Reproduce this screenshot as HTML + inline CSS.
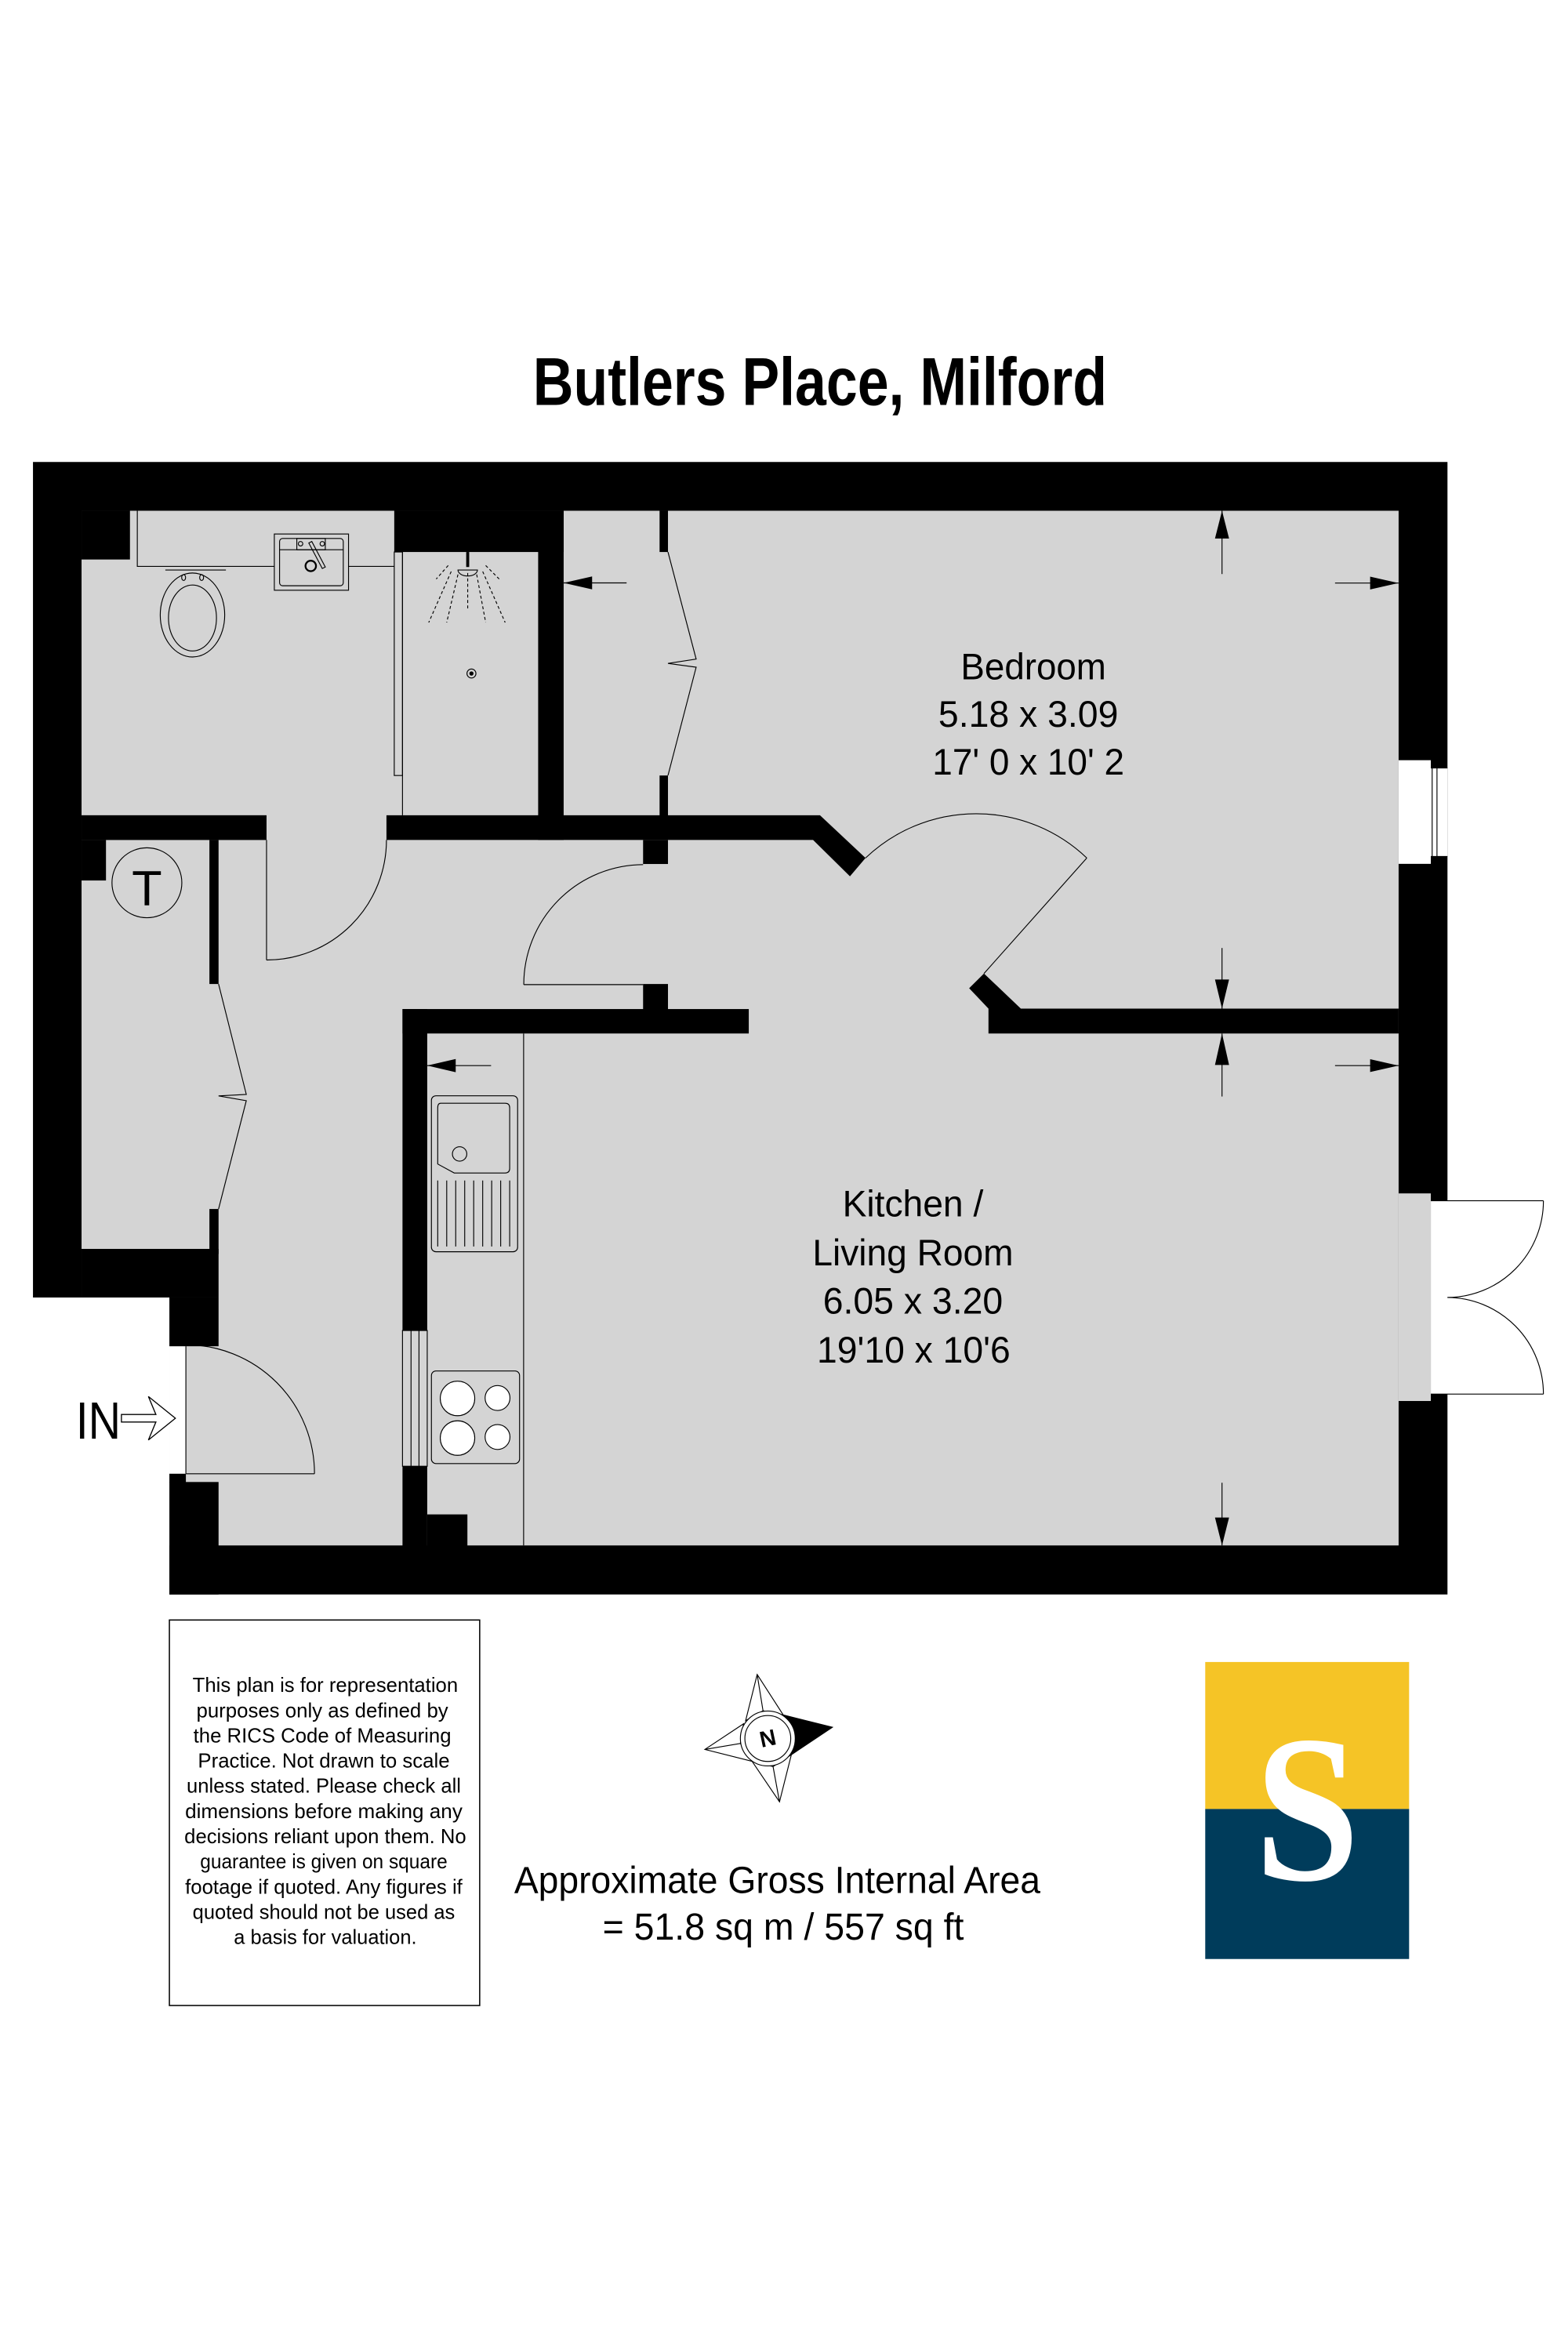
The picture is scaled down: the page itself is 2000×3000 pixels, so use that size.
<!DOCTYPE html>
<html><head><meta charset="utf-8"><style>
html,body{margin:0;padding:0;background:#fff;}
svg{display:block;}
text{font-family:"Liberation Sans",Arial,sans-serif;}
</style></head><body>
<svg width="2000" height="3000" viewBox="0 0 1046 1568" preserveAspectRatio="none" xmlns="http://www.w3.org/2000/svg">
<rect x="0" y="0" width="1046" height="1568" fill="#fff"/>
<!-- title -->
<text x="547" y="270" font-size="45" font-weight="bold" text-anchor="middle" textLength="383" lengthAdjust="spacingAndGlyphs">Butlers Place, Milford</text>

<!-- outer black -->
<polygon points="22,308 965.6,308 965.6,1063 113,1063 113,865 22,865" fill="#000"/>
<!-- interior gray -->
<rect x="54.4" y="340.5" width="878.6" height="689.8" fill="#d4d4d4"/>
<rect x="0" y="865" width="113" height="200" fill="#fff"/>
<rect x="113" y="897.5" width="11" height="85" fill="#fff"/>

<g fill="#000">
<rect x="54.4" y="340.5" width="32.3" height="32.5"/>
<rect x="263" y="340.5" width="113" height="27.5"/>
<rect x="359" y="340.5" width="17" height="219.5"/>
<rect x="440" y="340.5" width="5.6" height="27.5"/>
<rect x="440" y="517" width="5.6" height="27"/>
<rect x="54.4" y="543.5" width="123.4" height="16.5"/>
<polygon points="257.8,543.5 547,543.5 577.4,572 567,584.2 542.4,560 257.8,560"/>
<rect x="429" y="560" width="16.6" height="16"/>
<rect x="429" y="656" width="16.6" height="17"/>
<rect x="54.4" y="560" width="16.3" height="27"/>
<rect x="139.7" y="560" width="6.1" height="96"/>
<rect x="139.7" y="806" width="6.1" height="30"/>
<rect x="54.4" y="832.6" width="91.4" height="32.4"/>
<rect x="113" y="865" width="32.8" height="32.5"/>
<rect x="113" y="982.5" width="11" height="6"/>
<rect x="113" y="988" width="32.8" height="75"/>
<rect x="268.5" y="672.7" width="231" height="16.3"/>
<rect x="268.5" y="672.7" width="16.5" height="214.3"/>
<rect x="268.5" y="977.5" width="16.5" height="53"/>
<rect x="285" y="1009.6" width="26.8" height="21"/>
<polygon points="646.5,658.8 656.4,649 681,672.4 933,672.4 933,689 659.4,689 659.4,672.4"/>
</g>

<!-- bedroom window -->
<rect x="933" y="506.8" width="21.5" height="69.1" fill="#fff"/>
<rect x="954.5" y="512" width="11.1" height="59" fill="#fff"/>
<g stroke="#000" stroke-width="0.6" fill="none">
<line x1="955.4" y1="512" x2="955.4" y2="571"/>
<line x1="958.6" y1="512" x2="958.6" y2="571"/>
<line x1="954.5" y1="512" x2="965.6" y2="512"/>
<line x1="954.5" y1="571" x2="965.6" y2="571"/>
</g>
<!-- french door -->
<rect x="933" y="795.6" width="21.5" height="138.4" fill="#d4d4d4"/>
<rect x="954.5" y="800.5" width="12" height="128.9" fill="#fff"/>

<!-- thin lines -->
<g stroke="#000" stroke-width="0.6" fill="none">
<!-- french door leaves -->
<line x1="954.5" y1="800.5" x2="1029.6" y2="800.5"/>
<line x1="954.5" y1="929.4" x2="1029.6" y2="929.4"/>
<path d="M1029.6,800.5 A64.4,64.4 0 0 1 965.6,865"/>
<path d="M965.6,865 A64.4,64.4 0 0 1 1029.6,929.4"/>
<!-- bath counter -->
<polyline points="91.6,340.5 91.6,377.6 183,377.6"/>
<line x1="232.5" y1="377.6" x2="263" y2="377.6"/>
<!-- toilet -->
<line x1="110.3" y1="380" x2="150.7" y2="380"/>
<ellipse cx="128.4" cy="410" rx="21.5" ry="28"/>
<ellipse cx="128.4" cy="412" rx="16" ry="22"/>
<ellipse cx="122.5" cy="385" rx="1.3" ry="2"/>
<ellipse cx="134.5" cy="385" rx="1.3" ry="2"/>
<!-- basin -->
<rect x="183" y="356" width="49.5" height="37.5"/>
<rect x="186.5" y="359" width="42.5" height="31.5" rx="2"/>
<line x1="186.5" y1="366.5" x2="229" y2="366.5"/>
<rect x="198" y="359" width="19" height="7.5"/>
<circle cx="200.5" cy="362.5" r="1.5"/>
<circle cx="215" cy="362.5" r="1.5"/>
<circle cx="207.3" cy="377.3" r="3.5" stroke-width="1.2"/>
<path d="M206,362 L215,379 L217,378 L208,361 Z"/>
<!-- shower -->
<rect x="263" y="368" width="5.5" height="149"/>
<line x1="268.5" y1="368" x2="268.5" y2="543.5"/>
<path d="M305.5,380 A6.5,4 0 0 0 318.5,380 Z"/>
<g stroke-dasharray="2,1.6">
<line x1="312" y1="382" x2="312" y2="407"/>
<line x1="305.5" y1="383" x2="298" y2="415"/>
<line x1="301" y1="381" x2="286" y2="415"/>
<line x1="299" y1="377" x2="291" y2="386"/>
<line x1="318" y1="383" x2="324" y2="415"/>
<line x1="322" y1="381" x2="337" y2="415"/>
<line x1="324" y1="377" x2="333" y2="386"/>
</g>
<circle cx="314.5" cy="449" r="3"/>
<!-- wardrobe doors -->
<polyline points="445.6,368 464.4,439.4 445.6,442.3 464.4,444.8 445.6,517"/>
<polyline points="145.8,656 164.3,729.6 145.8,730.6 164.3,733.8 145.8,806"/>
<!-- cylinder T -->
<circle cx="98" cy="588.5" r="23.3"/>
<!-- doors -->
<line x1="177.8" y1="560" x2="177.8" y2="640"/>
<path d="M177.8,640 A80,80 0 0 0 257.8,560"/>
<line x1="349.4" y1="656.4" x2="429" y2="656.4"/>
<path d="M349.4,656.4 A80,80 0 0 1 429,576.4"/>
<line x1="124" y1="982.5" x2="209.8" y2="982.5"/>
<path d="M124,896.5 A86,86 0 0 1 209.8,982.5"/>
<line x1="124" y1="897.5" x2="124" y2="982.5"/>
<path d="M577.4,572 A107,107 0 0 1 725,572"/>
<line x1="725" y1="572" x2="656.4" y2="649"/>
<!-- kitchen -->
<line x1="349.3" y1="689" x2="349.3" y2="1030.3"/>
<line x1="274.2" y1="887" x2="274.2" y2="977.5"/>
<line x1="279.5" y1="887" x2="279.5" y2="977.5"/>
<rect x="268.5" y="887" width="16.5" height="90.5"/>
<rect x="287.8" y="730.5" width="57.5" height="104" rx="3"/>
<path d="M294,735.5 L337,735.5 Q340,735.5 340,738.5 L340,779 Q340,782 337,782 L303,782 L292,776 L292,738.5 Q292,735.5 294,735.5 Z"/>
<circle cx="306.6" cy="769.3" r="4.8"/>
<line x1="292" y1="787" x2="292" y2="831"/>
<line x1="298" y1="787" x2="298" y2="831"/>
<line x1="304" y1="787" x2="304" y2="831"/>
<line x1="310" y1="787" x2="310" y2="831"/>
<line x1="316" y1="787" x2="316" y2="831"/>
<line x1="322" y1="787" x2="322" y2="831"/>
<line x1="328" y1="787" x2="328" y2="831"/>
<line x1="334" y1="787" x2="334" y2="831"/>
<line x1="340" y1="787" x2="340" y2="831"/>
<rect x="287.8" y="914" width="58.8" height="61.7" rx="3"/>
<circle cx="305.2" cy="932.3" r="11.5" fill="#fff"/>
<circle cx="305.2" cy="958.7" r="11.5" fill="#fff"/>
<circle cx="331.9" cy="932" r="8.3" fill="#fff"/>
<circle cx="331.9" cy="958" r="8.3" fill="#fff"/>
<!-- arrows lines -->
<line x1="376" y1="388.6" x2="418" y2="388.6"/>
<line x1="285" y1="710.4" x2="327.6" y2="710.4"/>
<line x1="815.2" y1="340.5" x2="815.2" y2="382.7"/>
<line x1="890.6" y1="388.7" x2="933" y2="388.7"/>
<line x1="815.2" y1="632" x2="815.2" y2="672.4"/>
<line x1="815.2" y1="689" x2="815.2" y2="731"/>
<line x1="890.6" y1="710.4" x2="933" y2="710.4"/>
<line x1="815.2" y1="988.5" x2="815.2" y2="1030.3"/>
</g>
<g fill="#000">
<circle cx="314.5" cy="449" r="1.4"/>
<line x1="312" y1="368" x2="312" y2="378" stroke="#000" stroke-width="2"/>
<polygon points="376,388.6 395,384.3 395,392.9"/>
<polygon points="285,710.4 304,706 304,714.8"/>
<polygon points="815.2,340.5 810.5,359 819.9,359"/>
<polygon points="933,388.7 914,384.4 914,393"/>
<polygon points="815.2,672.4 810.5,653 819.9,653"/>
<polygon points="815.2,689 810.5,710 819.9,710"/>
<polygon points="933,710.4 914,706.1 914,714.7"/>
<polygon points="815.2,1030.3 810.5,1011.7 819.9,1011.7"/>
</g>

<!-- labels -->
<text x="98" y="603.5" font-size="33" text-anchor="middle">T</text>
<text x="50.6" y="959" font-size="35" textLength="30" lengthAdjust="spacingAndGlyphs">IN</text>
<polygon points="81,943 104,943 99,931 117,945.5 99,960 104,948 81,948" fill="#fff" stroke="#000" stroke-width="0.7"/>
<g font-size="24.5" text-anchor="middle">
<text x="689.4" y="452.8" textLength="97" lengthAdjust="spacingAndGlyphs">Bedroom</text>
<text x="686" y="484.5" textLength="120" lengthAdjust="spacingAndGlyphs">5.18 x 3.09</text>
<text x="686" y="516.5" textLength="128" lengthAdjust="spacingAndGlyphs">17' 0 x 10' 2</text>
<text x="609" y="811" textLength="94" lengthAdjust="spacingAndGlyphs">Kitchen /</text>
<text x="609" y="843.6" textLength="134" lengthAdjust="spacingAndGlyphs">Living Room</text>
<text x="609" y="875.6" textLength="120" lengthAdjust="spacingAndGlyphs">6.05 x 3.20</text>
<text x="609.5" y="908.3" textLength="129" lengthAdjust="spacingAndGlyphs">19'10 x 10'6</text>
</g>

<!-- disclaimer -->
<rect x="113" y="1080" width="207" height="257" fill="none" stroke="#000" stroke-width="0.8"/>
<g font-size="13.3" text-anchor="middle">
<text x="217" y="1128" textLength="177" lengthAdjust="spacingAndGlyphs">This plan is for representation</text>
<text x="215" y="1144.8" textLength="168" lengthAdjust="spacingAndGlyphs">purposes only as defined by</text>
<text x="215" y="1161.6" textLength="172" lengthAdjust="spacingAndGlyphs">the RICS Code of Measuring</text>
<text x="216" y="1178.4" textLength="168" lengthAdjust="spacingAndGlyphs">Practice. Not drawn to scale</text>
<text x="216" y="1195.2" textLength="183" lengthAdjust="spacingAndGlyphs">unless stated. Please check all</text>
<text x="216" y="1212" textLength="185" lengthAdjust="spacingAndGlyphs">dimensions before making any</text>
<text x="217" y="1228.8" textLength="188" lengthAdjust="spacingAndGlyphs">decisions reliant upon them. No</text>
<text x="216" y="1245.6" textLength="165" lengthAdjust="spacingAndGlyphs">guarantee is given on square</text>
<text x="216" y="1262.4" textLength="185" lengthAdjust="spacingAndGlyphs">footage if quoted. Any figures if</text>
<text x="216" y="1279.2" textLength="175" lengthAdjust="spacingAndGlyphs">quoted should not be used as</text>
<text x="217" y="1296" textLength="122" lengthAdjust="spacingAndGlyphs">a basis for valuation.</text>
</g>

<!-- compass -->
<g stroke="#000" stroke-width="0.6" fill="#fff">
<polygon points="505.1,1116.3 522.5,1143.3 509,1140.5 497.4,1147.1"/>
<line x1="505.1" y1="1116.3" x2="509" y2="1140.5"/>
<polygon points="470.2,1166.3 496,1149.2 493.9,1162.3 501.7,1174.2"/>
<line x1="470.2" y1="1166.3" x2="493.9" y2="1162.3"/>
<polygon points="520,1201.2 527.9,1169.8 515.7,1177.7 501.7,1174.2"/>
<line x1="520" y1="1201.2" x2="515.7" y2="1177.7"/>
<polygon points="522.5,1143.3 555.3,1151.5 527.9,1169.8" fill="#000"/>
<circle cx="512.2" cy="1159" r="18.3"/>
<circle cx="512.2" cy="1159" r="15.3"/>
</g>
<text x="512.2" y="1164" font-size="15" font-weight="bold" text-anchor="middle" transform="rotate(-12 512.2 1159)">N</text>

<!-- area -->
<text x="518.5" y="1262" font-size="25" text-anchor="middle" textLength="351" lengthAdjust="spacingAndGlyphs">Approximate Gross Internal Area</text>
<text x="522.5" y="1293" font-size="25" text-anchor="middle" textLength="241" lengthAdjust="spacingAndGlyphs">= 51.8 sq m / 557 sq ft</text>

<!-- logo -->
<rect x="804" y="1108" width="136" height="98" fill="#F5C426"/>
<rect x="804" y="1206" width="136" height="100" fill="#003C5B"/>
<text x="872" y="1253" font-size="140" font-weight="bold" fill="#fff" text-anchor="middle" textLength="70" lengthAdjust="spacingAndGlyphs" style="font-family:'Liberation Serif',serif">S</text>
</svg>
</body></html>
